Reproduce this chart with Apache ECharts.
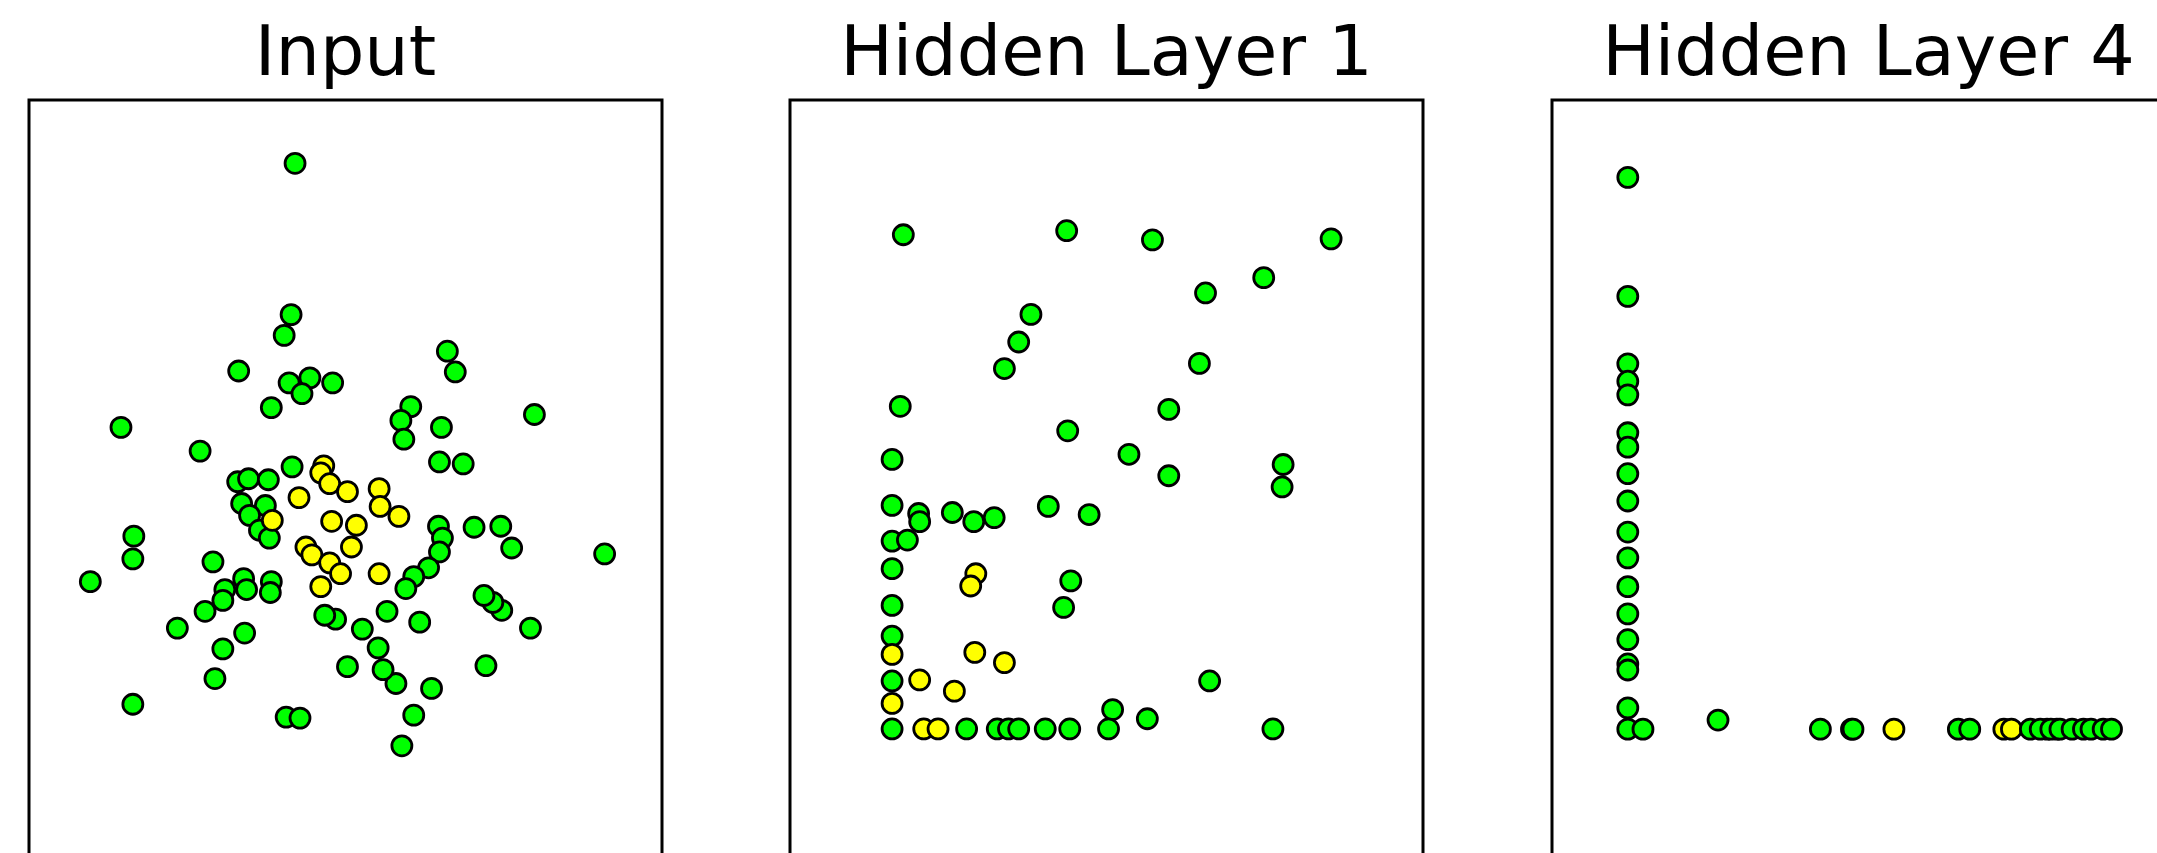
<!DOCTYPE html>
<html>
<head>
<meta charset="utf-8">
<script src="https://cdn.jsdelivr.net/npm/echarts@6/dist/echarts.min.js"></script>
<style>
html,body{margin:0;padding:0;background:#fff;}
#chart{width:2157px;height:853px;}
</style>
</head>
<body>
<div id="chart"></div>
<script>
// Panel titles
const panelTitles = ['Input', 'Hidden Layer 1', 'Hidden Layer 4'];

// Input layer: class A (green) and class B (yellow), [x, y]
const inputGreen = [
  [-0.51,3.76],[-0.55,2.23],[-0.62,2.02],[-1.08,1.66],[-0.57,1.54],[-0.36,1.59],[-0.44,1.43],[-0.13,1.54],
  [-0.75,1.29],[1.03,1.86],[1.11,1.65],[1.91,1.22],[0.66,1.30],[0.56,1.16],[0.59,0.97],[0.97,1.09],
  [-2.27,1.09],[-1.47,0.85],[0.95,0.74],[1.19,0.72],[-0.54,0.69],[-1.09,0.54],[-0.98,0.57],[-0.78,0.56],
  [-1.05,0.32],[-0.81,0.30],[-0.97,0.20],[-0.87,0.05],[-0.77,-0.03],[-2.14,-0.01],[-2.15,-0.24],[-2.58,-0.47],
  [-1.34,-0.27],[-1.03,-0.44],[-1.22,-0.55],[-1.00,-0.55],[-0.75,-0.47],[-0.76,-0.58],[-1.24,-0.66],[-1.42,-0.77],
  [-1.70,-0.94],[-1.02,-0.99],[-1.24,-1.15],[-1.32,-1.45],[-2.15,-1.71],[-0.60,-1.84],[-0.46,-1.85],[0.57,-2.13],
  [0.69,-1.82],[0.87,-1.55],[0.51,-1.50],[0.38,-1.36],[0.33,-1.14],[0.17,-0.95],[0.02,-1.33],[-0.10,-0.85],
  [-0.21,-0.81],[0.42,-0.77],[0.75,-0.88],[1.42,-1.32],[1.87,-0.94],[1.58,-0.76],[1.49,-0.68],[1.40,-0.61],
  [2.62,-0.19],[1.68,-0.13],[1.57,0.09],[1.30,0.08],[0.94,0.09],[0.98,-0.03],[0.95,-0.17],[0.84,-0.33],
  [0.69,-0.42],[0.61,-0.54]
];
const inputYellow = [
  [-0.22,0.70],[-0.25,0.63],[-0.16,0.52],[0.02,0.44],[0.34,0.47],[-0.47,0.38],[-0.74,0.15],[-0.14,0.14],
  [0.11,0.10],[0.35,0.29],[0.54,0.19],[-0.40,-0.12],[0.06,-0.12],[-0.34,-0.20],[-0.16,-0.28],[-0.05,-0.39],
  [-0.25,-0.52],[0.34,-0.39]
];

// Hidden layer 1
const hidden1Green = [
  [0.11,4.84],[1.71,4.88],[2.55,4.79],[4.30,4.80],[3.64,4.42],[3.07,4.27],[1.36,4.06],[1.24,3.79],
  [1.10,3.53],[3.01,3.58],[0.08,3.16],[2.71,3.13],[1.72,2.92],[2.32,2.69],[0,2.64],[2.71,2.48],
  [3.83,2.59],[3.82,2.37],[0,2.19],[0.26,2.11],[0.27,2.03],[0.59,2.12],[0.80,2.03],[1.00,2.07],
  [1.53,2.18],[1.93,2.10],[0,1.84],[0.15,1.85],[0,1.57],[0,1.21],[1.75,1.45],[1.68,1.19],
  [0,0.91],[0,0.47],[3.11,0.47],[2.16,0.19],[2.50,0.10],
  [0,0],[0.73,0],[1.03,0],[1.14,0],[1.24,0],[1.50,0],[1.74,0],[2.12,0],[3.73,0]
];
const hidden1Yellow = [
  [0.82,1.52],[0.77,1.40],[0.81,0.75],[1.10,0.65],[0,0.73],[0.27,0.48],[0.61,0.37],[0,0.25],
  [0.31,0],[0.45,0]
];

// Hidden layer 4
const hidden4Green = [
  [0,7.28],[0,5.71],[0,4.82],[0,4.59],[0,4.41],[0,3.91],[0,3.72],[0,3.37],[0,3.01],[0,2.60],
  [0,2.26],[0,1.88],[0,1.52],[0,1.18],[0,0.86],[0,0.78],[0,0.28],[0,0],[0.20,0],[1.19,0.12],
  [2.54,0],[2.95,0],[2.97,0],[4.36,0],[4.51,0],[5.31,0],[5.44,0],[5.58,0],[5.70,0],[5.86,0],
  [6.01,0],[6.11,0],[6.27,0],[6.38,0]
];
const hidden4Yellow = [
  [3.51,0],[4.96,0],[5.06,0],[5.53,0],[5.66,0]
];

const GREEN = '#00ff00', YELLOW = '#ffff00';
const chart = echarts.init(document.getElementById('chart'), null, {renderer:'canvas'});

// plotting areas (kept inside the canvas); frames drawn separately as they run off the page
const panels = [
  {left:29, top:100, width:633, height:753, frameW:633},
  {left:790, top:100, width:633, height:753, frameW:633},
  {left:1552, top:100, width:605, height:753, frameW:633}
];
const grids = panels.map(p => ({left:p.left, top:p.top, width:p.width, height:p.height, show:false, outerBoundsMode:'none', containLabel:false}));

const ranges = [
  {x:[-3.2,3.2], y:[-3.214,4.4]},
  {x:[-1,5.2], y:[-1.215,6.16]},
  {x:[-1,6.98], y:[-1.634,8.30]}
];

const xAxes = ranges.map((r,i)=>({type:'value', gridIndex:i, min:r.x[0], max:r.x[1], show:false, splitLine:{show:false}}));
const yAxes = ranges.map((r,i)=>({type:'value', gridIndex:i, min:r.y[0], max:r.y[1], show:false, splitLine:{show:false}}));

function sc(data, i, color, z){
  return {type:'scatter', xAxisIndex:i, yAxisIndex:i, data:data, symbol:'circle', symbolSize:20, z:z,
    itemStyle:{color:color, borderColor:'#000', borderWidth:2.8, opacity:1},
    emphasis:{disabled:true}, silent:true};
}

const centers = panels.map(p => p.left + p.frameW/2);
const frames = panels.map(p => ({type:'rect', silent:true, z:10,
  shape:{x:p.left, y:p.top, width:p.frameW, height:p.height + 60},
  style:{fill:'none', stroke:'#000', lineWidth:3}}));
const titles = panelTitles.map((t,i)=>({type:'text', silent:true, x:centers[i], y:57,
  style:{text:t, font:'70px "DejaVu Sans"', fill:'#000', align:'center', verticalAlign:'middle'}}));

chart.setOption({
  animation:false,
  grid: grids,
  xAxis: xAxes,
  yAxis: yAxes,
  graphic: frames.concat(titles),
  series: [
    sc(inputGreen,0,GREEN,2), sc(inputYellow,0,YELLOW,3),
    sc(hidden1Green,1,GREEN,2), sc(hidden1Yellow,1,YELLOW,3),
    sc(hidden4Yellow,2,YELLOW,2), sc(hidden4Green,2,GREEN,3)
  ]
});
</script>
</body>
</html>
